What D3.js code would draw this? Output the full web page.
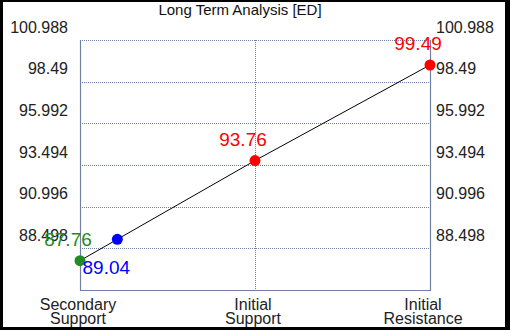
<!DOCTYPE html>
<html>
<head>
<meta charset="utf-8">
<script src="https://cdn.jsdelivr.net/npm/d3@7"></script>
<style>
  html, body { margin: 0; padding: 0; background: #000; }
  svg { display: block; }
</style>
</head>
<body>
<script>
// chart values
const categories = [["Secondary", "Support"], ["Initial", "Support"], ["Initial", "Resistance"]];
const levels = [87.76, 93.76, 99.49];
const levelColors = ["#228b22", "#ff0000", "#ff0000"];
const currentPrice = 89.04;
const tickValues = [88.498, 90.996, 93.494, 95.992, 98.49, 100.988];
const yMin = 86.0;
const title = "Long Term Analysis [ED]";

const width = 510, height = 330;
const margin = { top: 40, right: 80, bottom: 40, left: 80 };
const font = "'Liberation Sans', Arial, sans-serif";

const svg = d3.select("body").append("svg")
    .attr("width", width)
    .attr("height", height)
    .attr("font-family", font);

// white panel inside the black frame
svg.append("rect")
    .attr("x", 3).attr("y", 2)
    .attr("width", 502).attr("height", 325)
    .attr("fill", "#fff");

const x = d3.scaleLinear().domain([0, categories.length - 1]).range([margin.left, width - margin.right]);
const y = d3.scaleLinear().domain([yMin, d3.max(tickValues)]).range([height - margin.bottom, margin.top]);

const gridColor = "#7080a0";

// horizontal grid (dotted)
svg.append("g")
    .selectAll("line")
    .data(tickValues)
    .join("line")
    .attr("x1", x(0)).attr("x2", x(2))
    .attr("y1", d => Math.round(y(d)) + 0.5)
    .attr("y2", d => Math.round(y(d)) + 0.5)
    .attr("stroke", gridColor)
    .attr("stroke-dasharray", "1,1");

// vertical grid at middle category
svg.append("line")
    .attr("x1", Math.round(x(1)) + 0.5).attr("x2", Math.round(x(1)) + 0.5)
    .attr("y1", y.range()[1]).attr("y2", y.range()[0])
    .attr("stroke", gridColor)
    .attr("stroke-dasharray", "1,1");

// axis frame lines
const frame = svg.append("g").attr("stroke", gridColor).attr("stroke-width", 1.2);
frame.append("line").attr("x1", x(0) + 0.5).attr("x2", x(0) + 0.5).attr("y1", y.range()[1]).attr("y2", y.range()[0]);
frame.append("line").attr("x1", x(2) + 0.5).attr("x2", x(2) + 0.5).attr("y1", y.range()[1]).attr("y2", y.range()[0]);
frame.append("line").attr("x1", x(0)).attr("x2", x(2) + 1).attr("y1", y.range()[0] + 0.5).attr("y2", y.range()[0] + 0.5);

// tick labels, sitting above their grid lines
const tickFmt = d => String(d);
const leftAxis = d3.axisLeft(y).tickValues(tickValues).tickFormat(tickFmt).tickSize(0).tickPadding(12);
const rightAxis = d3.axisRight(y).tickValues(tickValues).tickFormat(tickFmt).tickSize(0).tickPadding(6);

[[leftAxis, x(0)], [rightAxis, x(2)]].forEach(([ax, px]) => {
    const g = svg.append("g")
        .attr("transform", `translate(${px},0)`)
        .call(ax);
    g.select(".domain").remove();
    g.selectAll("text")
        .attr("font-family", font)
        .attr("font-size", 16)
        .attr("fill", "#222")
        .attr("dy", "-0.5em");
});

// title
svg.append("text")
    .attr("x", 240).attr("y", 15)
    .attr("text-anchor", "middle")
    .attr("font-size", 15)
    .attr("fill", "#111")
    .text(title);

// category labels
const catG = svg.append("g");
categories.forEach((lines, i) => {
    const cx = Math.min(x(i), 425);
    const t = catG.append("text")
        .attr("text-anchor", "middle")
        .attr("font-size", 16)
        .attr("fill", "#222");
    lines.forEach((ln, j) => {
        t.append("tspan")
            .attr("x", cx - 2)
            .attr("y", 310 + j * 14)
            .text(ln);
    });
});

// connecting line
const line = d3.line().x((d, i) => x(i)).y(d => y(d));
svg.append("path")
    .datum(levels)
    .attr("d", line)
    .attr("fill", "none")
    .attr("stroke", "#000")
    .attr("stroke-width", 1);

// current price sits on the line between first two levels
const curPos = (currentPrice - levels[0]) / (levels[1] - levels[0]);

// level points
svg.append("g")
    .selectAll("circle")
    .data(levels)
    .join("circle")
    .attr("cx", (d, i) => x(i))
    .attr("cy", d => y(d))
    .attr("r", 5.5)
    .attr("fill", (d, i) => levelColors[i]);

svg.append("circle")
    .attr("cx", x(curPos))
    .attr("cy", y(currentPrice))
    .attr("r", 5.5)
    .attr("fill", "#0000ff");

// value labels
svg.append("g")
    .selectAll("text")
    .data(levels)
    .join("text")
    .attr("x", (d, i) => x(i) - 12)
    .attr("y", d => y(d) - 15)
    .attr("text-anchor", "middle")
    .attr("font-size", 19)
    .attr("fill", (d, i) => levelColors[i])
    .text(d => d.toFixed(2));

svg.append("text")
    .attr("x", x(curPos) - 11)
    .attr("y", y(currentPrice) + 35)
    .attr("text-anchor", "middle")
    .attr("font-size", 19)
    .attr("fill", "#0000ff")
    .text(currentPrice.toFixed(2));
</script>
</body>
</html>
